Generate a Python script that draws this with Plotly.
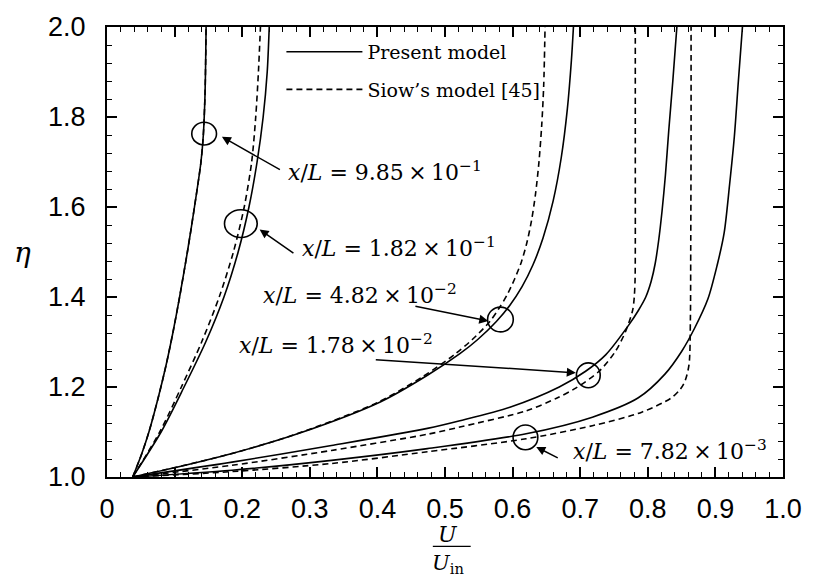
import plotly.graph_objects as go

# Velocity profiles U/U_in versus eta at five axial stations x/L
stations = ["9.85×10<sup>−1</sup>", "1.82×10<sup>−1</sup>", "4.82×10<sup>−2</sup>",
            "1.78×10<sup>−2</sup>", "7.82×10<sup>−3</sup>"]

# Present model (solid)
present_985_eta = [1.0, 1.05, 1.10, 1.18, 1.25, 1.32, 1.40, 1.50, 1.60, 1.70, 1.76, 1.85, 1.93, 2.0]
present_985_u = [0.038, 0.051, 0.062, 0.0764, 0.0876, 0.0974, 0.1074, 0.1189, 0.1294, 0.139, 0.1425, 0.1450, 0.1460, 0.1466]

present_182_eta = [1.0, 1.1, 1.2, 1.3, 1.4, 1.5, 1.6, 1.7, 1.8, 1.9, 2.0]
present_182_u = [0.038, 0.080, 0.114, 0.146, 0.173, 0.194, 0.210, 0.222, 0.231, 0.237, 0.240]

present_482_eta = [1.0, 1.0165, 1.0524, 1.0965, 1.1673, 1.226, 1.274, 1.305, 1.3457, 1.3817,
                   1.423, 1.471, 1.531, 1.6137, 1.71, 1.818, 1.926, 2.0]
present_482_u = [0.038, 0.088, 0.185, 0.283, 0.405, 0.474, 0.522, 0.548, 0.576, 0.596,
                 0.614, 0.630, 0.645, 0.660, 0.672, 0.681, 0.687, 0.690]

present_178_eta = [1.0, 1.033, 1.070, 1.108, 1.125, 1.155, 1.200, 1.235, 1.272, 1.338, 1.37,
                   1.40, 1.435, 1.475, 1.525, 1.59, 1.67, 1.77, 1.88, 2.0]
present_178_u = [0.038, 0.185, 0.332, 0.474, 0.522, 0.596, 0.669, 0.708, 0.738, 0.772, 0.786,
                 0.797, 0.805, 0.811, 0.816, 0.821, 0.826, 0.831, 0.837, 0.843]

present_782_eta = [1.0, 1.015, 1.037, 1.063, 1.096, 1.133, 1.176, 1.228, 1.279, 1.330, 1.396,
                   1.470, 1.543, 1.65, 1.756, 1.88, 2.0]
present_782_u = [0.038, 0.185, 0.332, 0.474, 0.620, 0.718, 0.786, 0.825, 0.850, 0.869, 0.889,
                 0.9025, 0.913, 0.921, 0.928, 0.934, 0.940]

# Siow's model (dashed)
siow_985_eta = present_985_eta
siow_985_u = present_985_u

siow_182_eta = [1.0, 1.1, 1.2, 1.3, 1.4, 1.5, 1.6, 1.7, 1.8, 1.9, 2.0]
siow_182_u = [0.038, 0.078, 0.110, 0.140, 0.166, 0.187, 0.203, 0.214, 0.220, 0.224, 0.227]

siow_482_eta = [1.0, 1.016, 1.051, 1.095, 1.164, 1.222, 1.272, 1.305, 1.345, 1.375, 1.405,
                1.44, 1.478, 1.52, 1.57, 1.63, 1.70, 1.78, 1.87, 2.0]
siow_482_u = [0.038, 0.086, 0.182, 0.279, 0.398, 0.466, 0.514, 0.540, 0.566, 0.580, 0.592,
              0.603, 0.613, 0.621, 0.628, 0.634, 0.639, 0.643, 0.646, 0.648]

siow_178_eta = [1.0, 1.026, 1.059, 1.095, 1.111, 1.147, 1.175, 1.198, 1.235, 1.279, 1.323,
                1.37, 1.40, 1.44, 1.50, 1.75, 2.0]
siow_178_u = [0.038, 0.185, 0.332, 0.474, 0.522, 0.620, 0.665, 0.694, 0.728, 0.752, 0.767,
              0.7775, 0.780, 0.7812, 0.7815, 0.7815, 0.7815]

siow_782_eta = [1.0, 1.012, 1.030, 1.056, 1.085, 1.114, 1.144, 1.176, 1.195, 1.213, 1.25,
                1.35, 1.5, 1.75, 2.0]
siow_782_u = [0.038, 0.185, 0.332, 0.474, 0.620, 0.718, 0.791, 0.835, 0.848, 0.855, 0.861,
              0.863, 0.8635, 0.864, 0.864]

present = [(present_985_u, present_985_eta), (present_182_u, present_182_eta),
           (present_482_u, present_482_eta), (present_178_u, present_178_eta),
           (present_782_u, present_782_eta)]
siow = [(siow_985_u, siow_985_eta), (siow_182_u, siow_182_eta),
        (siow_482_u, siow_482_eta), (siow_178_u, siow_178_eta),
        (siow_782_u, siow_782_eta)]

# Station markers: circle centre (u, eta) and half-size (du, deta)
circle_u = [0.1437, 0.198, 0.582, 0.712, 0.619]
circle_eta = [1.763, 1.563, 1.350, 1.226, 1.088]
circle_du = [0.0183, 0.0242, 0.019, 0.0176, 0.0183]
circle_deta = [0.0253, 0.0308, 0.0275, 0.0275, 0.0275]

# Label text anchor (left edge) and arrow tail/head
label_u = [0.2654, 0.286, 0.2273, 0.192, 0.686]
label_eta = [1.681, 1.512, 1.407, 1.2945, 1.059]
arrow_tail_u = [0.258, 0.278, 0.454, 0.3954, 0.669]
arrow_tail_eta = [1.681, 1.495, 1.380, 1.261, 1.041]
arrow_head_u = [0.170, 0.2258, 0.564, 0.6935, 0.635]
arrow_head_eta = [1.756, 1.550, 1.3466, 1.2315, 1.0667]

SERIF = "DejaVu Serif, Liberation Serif, serif"
SANS = "Liberation Sans Narrow, Liberation Sans, sans-serif"
LINE = dict(color="black", width=1.6, shape="spline", smoothing=0.8)

fig = go.Figure()
for i, (u, eta) in enumerate(present):
    fig.add_trace(go.Scatter(x=u, y=eta, mode="lines", name="Present model",
                             legendgroup="present", showlegend=(i == 0), line=LINE))
for i, (u, eta) in enumerate(siow):
    fig.add_trace(go.Scatter(x=u, y=eta, mode="lines", name="Siow’s model [45]",
                             legendgroup="siow", showlegend=(i == 0),
                             line=dict(LINE, dash="6px,4px")))

shapes = []
for cu, ce, du, de in zip(circle_u, circle_eta, circle_du, circle_deta):
    shapes.append(dict(type="circle", xref="x", yref="y", x0=cu - du, x1=cu + du,
                       y0=ce - de, y1=ce + de, line=dict(color="black", width=1.6)))

annotations = []
for txt, lu, le in zip(stations, label_u, label_eta):
    annotations.append(dict(x=lu, y=le, xref="x", yref="y", xanchor="left", yanchor="middle",
                            text="<i>x</i>/<i>L</i> = " + txt.replace("×", "\u2009×\u2009"),
                            showarrow=False, font=dict(family=SERIF, size=22, color="black")))
for tu, te, hu, he in zip(arrow_tail_u, arrow_tail_eta, arrow_head_u, arrow_head_eta):
    annotations.append(dict(x=hu, y=he, xref="x", yref="y", ax=tu, ay=te, axref="x", ayref="y",
                            text="", showarrow=True, arrowhead=2, arrowsize=1.2,
                            arrowwidth=1.5, arrowcolor="black", standoff=0, startstandoff=0))

# Axis titles: eta on the left, U/U_in as a stacked fraction below
annotations.append(dict(x=-0.14, y=0.499, xref="paper", yref="paper", text="<i>η</i>",
                        showarrow=False, font=dict(family=SERIF, size=28, color="black")))
annotations.append(dict(x=0.5044, y=-0.128, xref="paper", yref="paper", text="<i>U</i>",
                        showarrow=False, yanchor="middle",
                        font=dict(family=SERIF, size=22, color="black")))
annotations.append(dict(x=0.5044, y=-0.194, xref="paper", yref="paper",
                        text="<i>U</i><sub>in</sub>", showarrow=False, yanchor="middle",
                        font=dict(family=SERIF, size=21, color="black")))
shapes.append(dict(type="line", xref="paper", yref="paper", x0=0.482, x1=0.538,
                   y0=-0.154, y1=-0.154, line=dict(color="black", width=1.3)))

axis_common = dict(showgrid=False, zeroline=False, showline=True, linecolor="black",
                   linewidth=2, mirror="ticks", ticks="inside", ticklen=10, tickwidth=1.5,
                   tickcolor="black", tickfont=dict(family=SANS, size=27, color="black"))

fig.update_layout(
    width=814, height=580,
    margin=dict(l=107, r=25, t=22, b=103),
    plot_bgcolor="white", paper_bgcolor="white",
    xaxis=dict(range=[0, 1.0], tickvals=[0, 0.1, 0.2, 0.3, 0.4, 0.5, 0.6, 0.7, 0.8, 0.9, 1.0],
               ticktext=["0", "0.1", "0.2", "0.3", "0.4", "0.5", "0.6", "0.7", "0.8", "0.9", "1.0"],
               minor=dict(dtick=0.02, ticks="inside", ticklen=5, tickwidth=1.2, tickcolor="black"),
               ticklabelstandoff=7, **axis_common),
    yaxis=dict(range=[1.0, 2.0], tickvals=[1.0, 1.2, 1.4, 1.6, 1.8, 2.0],
               ticktext=["1.0", "1.2", "1.4", "1.6", "1.8", "2.0"],
               minor=dict(dtick=0.04, tick0=1.0, ticks="inside", ticklen=5, tickwidth=1.2,
                          tickcolor="black"),
               ticklabelstandoff=14, **axis_common),
    legend=dict(x=0.258, y=0.987, xanchor="left", yanchor="top", bgcolor="rgba(0,0,0,0)",
                font=dict(family=SERIF, size=19, color="black"), itemwidth=76,
                traceorder="grouped", tracegroupgap=10),
    shapes=shapes, annotations=annotations,
)

fig.write_html("out.html")
